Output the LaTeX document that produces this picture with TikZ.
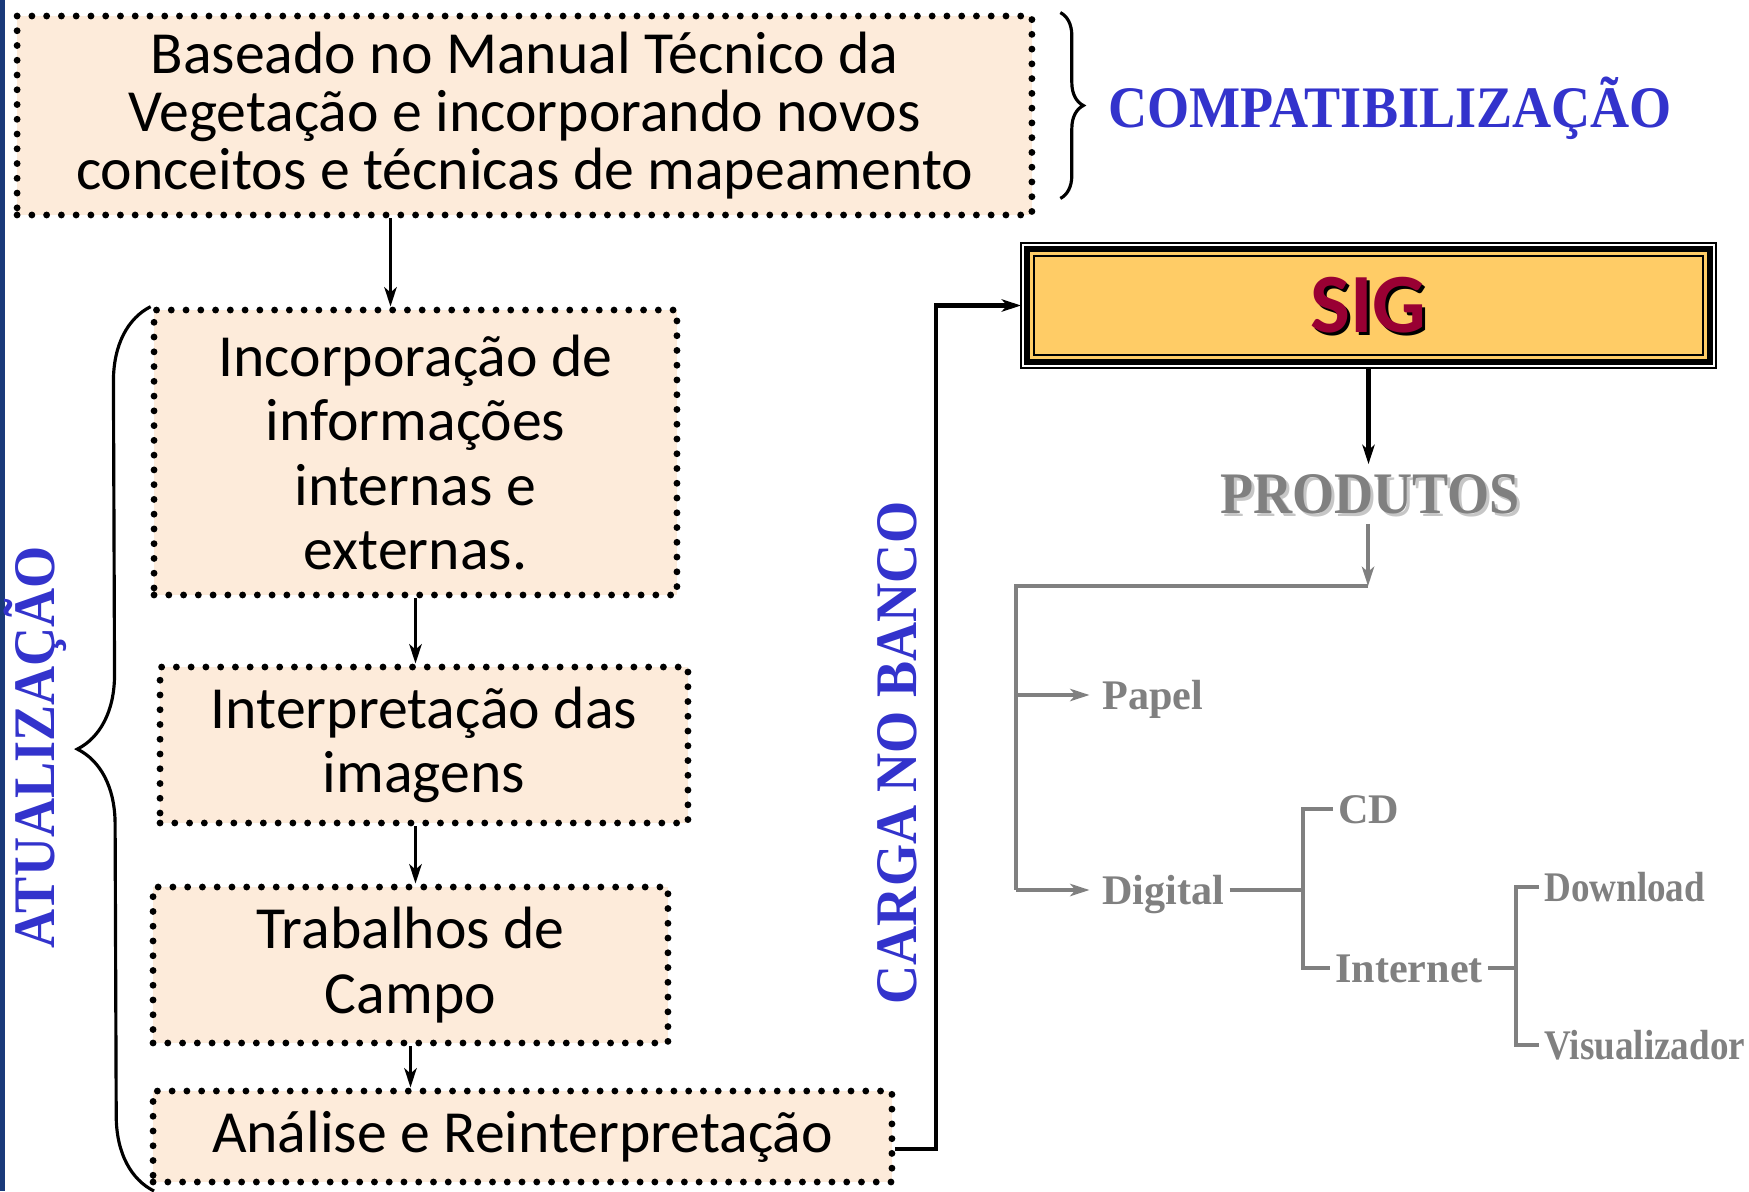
\documentclass[tikz,border=0pt]{standalone}
\usepackage{fontspec}
\usetikzlibrary{calc, arrows.meta, decorations.pathreplacing}

\newfontfamily\boxfont{Carlito}
\newfontfamily\labelfont[FakeStretch=0.92]{Liberation Serif}
\newfontfamily\treefont{Liberation Serif}
\newfontfamily\narrowfont[FakeStretch=0.88]{Liberation Serif}

\definecolor{boxfill}{RGB}{253,235,218}
\definecolor{sigfill}{RGB}{255,204,102}
\definecolor{sigred}{RGB}{153,0,51}
\definecolor{labelblue}{RGB}{51,51,204}
\definecolor{treegray}{RGB}{128,128,128}
\definecolor{stripblue}{RGB}{26,58,122}

\begin{document}
\begin{tikzpicture}[x=0.02cm, y=-0.02cm, >={Stealth[length=11pt, width=7pt, inset=3pt]},
	dotbox/.style={draw, fill=boxfill, line width=3.9pt, dash pattern=on 0pt off 8.4pt,
		line cap=round, align=center, inner sep=0pt,
		font=\boxfont\fontsize{34}{36.5}\selectfont},
	flow/.style={->, line width=2pt},
	bluelabel/.style={text=labelblue, inner sep=0pt, text height=0.78cm, text depth=0pt,
		font=\labelfont\bfseries\fontsize{33.5}{36}\selectfont},
	treelabel/.style={text=treegray, anchor=west, inner xsep=0.1cm, inner ysep=0pt,
		text height=0.56cm, text depth=0pt, font=\treefont\bfseries\fontsize{24}{26}\selectfont},
	treeline/.style={draw=treegray, line width=2.6pt}]
	
	% --- Constants ---
	\def\trunkx{1016}
	\def\splity{586}
	
	\useasboundingbox (0,0) rectangle (1749,1191);
	\fill[stripblue] (0,0) rectangle (5,1191);
	
	% =======================================================
	% LEFT COLUMN: dotted boxes
	% =======================================================
	\node[dotbox, minimum width=20.3cm, minimum height=3.98cm,
		font=\boxfont\fontsize{34}{33}\selectfont] (base) at (524.5,115.5)
		{Baseado no Manual Técnico da\\Vegetação e incorporando novos\\conceitos e técnicas de mapeamento};
	\node[dotbox, minimum width=10.46cm, minimum height=5.7cm] (incorp) at (415.5,452.5)
		{Incorporação de\\informações\\internas e\\externas.};
	\node[dotbox, minimum width=10.56cm, minimum height=3.12cm] (interp) at (424,745)
		{Interpretação das\\imagens};
	\node[dotbox, minimum width=10.3cm, minimum height=3.12cm] (campo) at (410.5,965)
		{Trabalhos de\\Campo};
	\node[dotbox, minimum width=14.78cm, minimum height=1.82cm] (analise) at (522.5,1136.5)
		{Análise e Reinterpretação};
	
	\draw[flow] ([xshift=-0.5cm]incorp.north |- base.south) -- ([xshift=-0.5cm]incorp.north);
	\draw[flow] (incorp.south) -- (incorp.south |- interp.north);
	\draw[flow] (incorp.south |- interp.south) -- (incorp.south |- campo.north);
	\draw[flow] (campo.south) -- (campo.south |- analise.north);
	
	% Braces and their labels
	\coordinate (bracebottom) at (154,1191);
	\draw[decorate, decoration={brace, amplitude=1.5cm}, line width=1.8pt]
	(bracebottom) -- (incorp.north west);
	\draw[decorate, decoration={brace, amplitude=0.46cm}, line width=1.8pt]
	([xshift=0.5cm]base.north east) -- ([xshift=0.5cm, yshift=0.4cm]base.south east);
	
	\node[bluelabel, anchor=west] (compat) at (1108,108) {COMPATIBILIZAÇÃO};
	\node[bluelabel, rotate=90] (atual) at (35,747) {ATUALIZAÇÃO};
	\node[bluelabel, rotate=90] (carga) at (897,753) {CARGA NO BANCO};
	
	% =======================================================
	% RIGHT SIDE: SIG and products
	% =======================================================
	\node[draw, fill=white, line width=0.85pt, outer sep=0pt,
		minimum width=13.9cm, minimum height=2.5cm] (sig) at (1368.5,305.5) {};
	\draw[fill=sigfill, line width=3.1pt]
	([shift={(6,6)}]sig.north west) rectangle ([shift={(-6,-6)}]sig.south east);
	\draw[line width=1.3pt]
	([shift={(13,13)}]sig.north west) rectangle ([shift={(-13,-13)}]sig.south east);
	\node[text=black, font=\boxfont\bfseries\fontsize{48}{48}\selectfont] (sigshadow)
		at ([shift={(3,3)}]sig.center) {SIG};
	\node[text=sigred, font=\boxfont\bfseries\fontsize{48}{48}\selectfont] (siglabel)
		at (sig.center) {SIG};
	
	\draw[flow, line width=2.4pt] ([yshift=-0.25cm]analise.east) -- ++(41,0) |- (sig.west);
	
	\node[bluelabel, text=treegray!45, inner ysep=0.2cm] (prodshadow) at (1373,497) {PRODUTOS};
	\node[bluelabel, text=treegray, inner ysep=0.2cm] (produtos) at (1370,494) {PRODUTOS};
	\draw[flow, line width=2.4pt] (sig.south) -- (sig.south |- produtos.north);
	
	% Tree of products
	\coordinate (split) at (1368,\splity);
	\coordinate (trunk) at (\trunkx,\splity);
	\node[treelabel] (papel) at (1097,695) {Papel};
	\node[treelabel] (digital) at (1097,890) {Digital};
	\node[treelabel] (cd) at (1333,809) {CD};
	\node[treelabel] (internet) at (1330,968) {Internet};
	\node[treelabel, font=\narrowfont\bfseries\fontsize{24}{26}\selectfont] (download) at (1539,887) {Download};
	\node[treelabel, font=\narrowfont\bfseries\fontsize{24}{26}\selectfont] (visual) at (1539,1045) {Visualizador};
	
	\draw[treeline, ->] (produtos.south -| split) -- (split);
	\draw[treeline] (split) -- (trunk) -- (trunk |- digital.west);
	\draw[treeline, ->] (trunk |- papel.west) -- ([xshift=-0.15cm]papel.west);
	\draw[treeline, ->] (trunk |- digital.west) -- ([xshift=-0.15cm]digital.west);
	
	\coordinate (dfork) at (1303,890);
	\draw[treeline] (digital.east) -- (dfork);
	\draw[treeline] (cd.west) -| (dfork) |- (internet.west);
	
	\coordinate (ifork) at (1516,968);
	\draw[treeline] (internet.east) -- (ifork);
	\draw[treeline] (download.west) -| (ifork) |- (visual.west);
	
\end{tikzpicture}
\end{document}
